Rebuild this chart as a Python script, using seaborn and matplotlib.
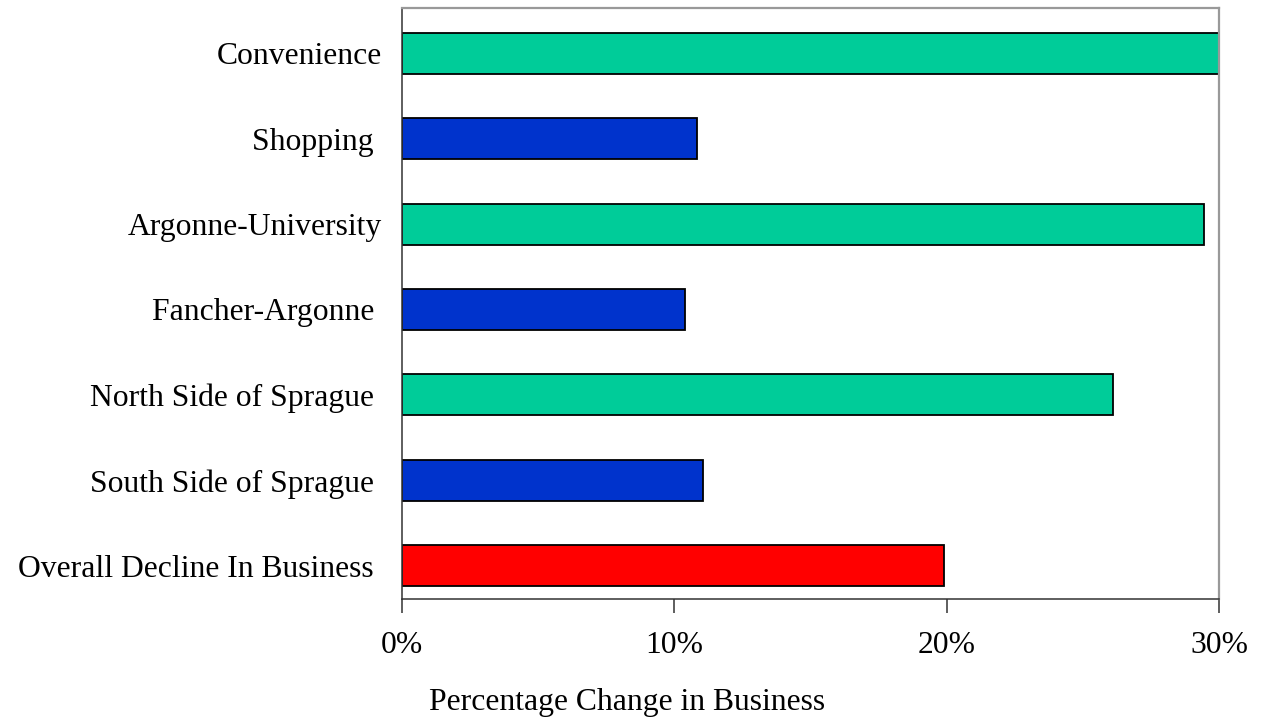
import matplotlib
matplotlib.use("Agg")
import matplotlib.pyplot as plt
import seaborn as sns
import pandas as pd

categories = [
    "Convenience",
    "Shopping ",
    "Argonne-University",
    "Fancher-Argonne ",
    "North Side of Sprague ",
    "South Side of Sprague ",
    "Overall Decline In Business ",
]
change_pct = [30.0, 10.85, 29.45, 10.4, 26.1, 11.05, 19.9]
bar_colors = ["#00CC99", "#0033CC", "#00CC99", "#0033CC", "#00CC99", "#0033CC", "#FF0000"]
x_ticks = [0, 10, 20, 30]
x_tick_labels = ["0%", "10%", "20%", "30%"]
x_title = "Percentage Change in Business"

sns.set_theme(style="white")
plt.rcParams["font.family"] = ["Liberation Serif", "DejaVu Serif"]

df = pd.DataFrame({"category": categories, "change": change_pct})

fig = plt.figure(figsize=(12.63, 7.19), dpi=100)
ax = fig.add_axes([402 / 1263, 1 - 599 / 719, 817 / 1263, 591 / 719])

sns.barplot(
    data=df, x="change", y="category", hue="category",
    palette=bar_colors, orient="h", width=0.48, legend=False,
    edgecolor="black", linewidth=1.3, saturation=1, ax=ax,
)

ax.set_xlim(0, 30)
ax.set_ylim(6.39, -0.53)
ax.set_xticks(x_ticks)
ax.set_xticklabels(x_tick_labels, fontsize=22.8, color="black")
ax.tick_params(axis="x", direction="out", length=10, width=1.1, color="#333333",
               pad=13, bottom=True)
ax.tick_params(axis="y", length=0, pad=14.5, labelsize=22.8, labelcolor="black")

ax.set_ylabel("")
ax.set_xlabel(x_title, fontsize=22.8, color="black")
ax.xaxis.set_label_coords(0.276, -0.15)

for side in ("left", "bottom"):
    ax.spines[side].set_color("#333333")
    ax.spines[side].set_linewidth(1.1)
for side in ("top", "right"):
    ax.spines[side].set_color("#999999")
    ax.spines[side].set_linewidth(1.6)
for s in ax.spines.values():
    s.set_visible(True)

fig.savefig("out.png", dpi=100, facecolor="white")
